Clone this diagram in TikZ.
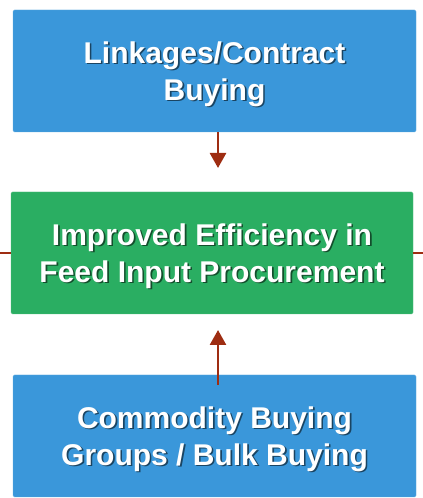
\documentclass[tikz,border=0pt]{standalone}
\usepackage{fontspec}
\setmainfont{Liberation Sans}
\usetikzlibrary{arrows.meta}

\definecolor{boxblue}{RGB}{58,151,218}
\definecolor{boxgreen}{RGB}{42,174,98}
\definecolor{arrowred}{RGB}{158,45,18}

% white text with a soft dark drop shadow
\newcommand{\shtext}[2]{\makebox[0pt][l]{\kern1.6pt\raisebox{-1.6pt}{\textcolor{#1}{#2}}}#2}

\tikzset{
  stagebox/.style={rectangle, rounded corners=1.5pt, minimum width=403pt, minimum height=122pt,
    inner sep=0pt, text=white, align=center, text depth=0pt,
    font=\fontsize{30}{37}\selectfont\bfseries},
  flowarrow/.style={draw=arrowred, line width=2.6pt, -{Triangle[width=16pt,length=15pt]}},
  sideline/.style={draw=arrowred, line width=1.4pt}
}

\begin{document}
\begin{tikzpicture}[x=1pt,y=1pt]

  % Parameters
  \def\picw{423}
  \def\pich{498}
  \def\arrx{218}
  \useasboundingbox (0,0) rectangle (\picw,\pich);

  % boxes
  \node[stagebox, fill=boxblue, draw=boxblue!80!white] (linkages) at (214.5,427)
    {\shtext{boxblue!45!black}{Linkages/Contract}\\ \shtext{boxblue!45!black}{Buying}};
  \node[stagebox, fill=boxgreen, draw=boxgreen!80!white, minimum width=402pt] (efficiency) at (212,245)
    {\shtext{boxgreen!45!black}{Improved Efficiency in}\\ \shtext{boxgreen!45!black}{Feed Input Procurement}};
  \node[stagebox, fill=boxblue, draw=boxblue!80!white] (commodity) at (214.5,62)
    {\shtext{boxblue!45!black}{Commodity Buying}\\ \shtext{boxblue!45!black}{Groups / Bulk Buying}};

  % arrow tips and loose ends
  \coordinate (toptip) at (\arrx,330);
  \coordinate (bottip) at (\arrx,168);
  \coordinate (leftend) at (0,245);
  \coordinate (rightend) at (\picw,245);

  % connectors
  \draw[flowarrow] (linkages.south -| toptip) -- (toptip);
  \draw[flowarrow] ([yshift=-10pt]commodity.north -| bottip) -- (bottip);

  % side lines leaving the picture
  \draw[sideline] (leftend) -- (efficiency.west);
  \draw[sideline] (efficiency.east) -- (rightend);

\end{tikzpicture}
\end{document}
